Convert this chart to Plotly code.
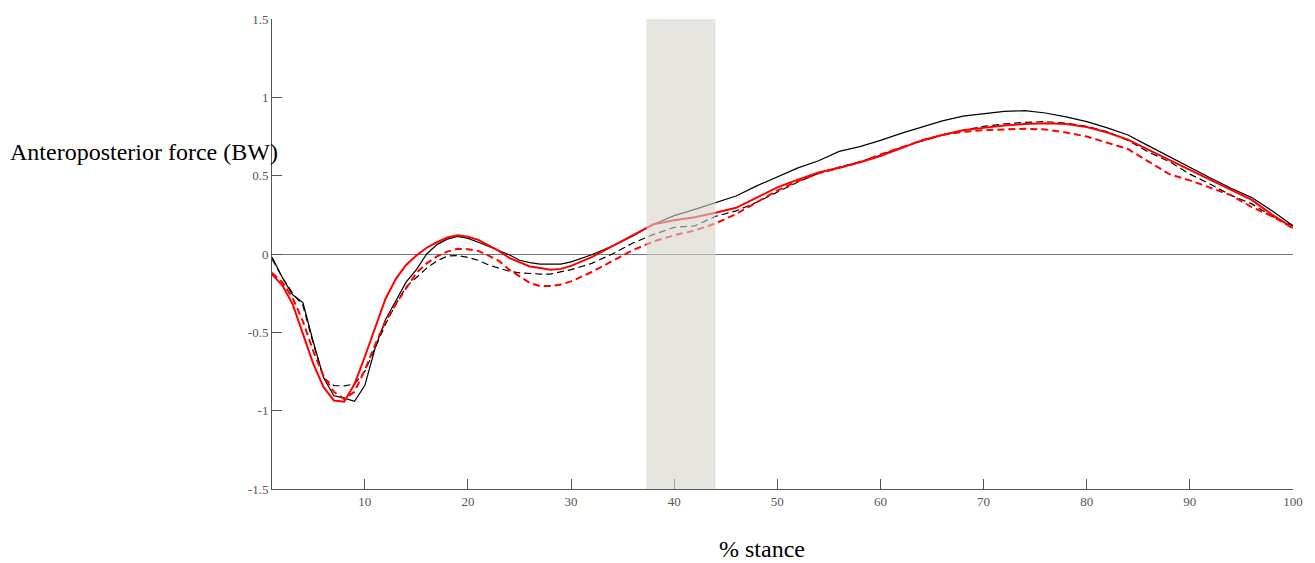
import plotly.graph_objects as go

# % stance sample points
stance = [1, 2, 3, 4, 5, 6, 7, 8, 9, 10, 11, 12, 13, 14, 15, 16, 17, 18, 19, 20,
          21, 22, 23, 24, 25, 26, 27, 28, 29, 30, 32, 34, 36, 38, 40, 42, 44, 46,
          48, 50, 52, 54, 56, 58, 60, 62, 64, 66, 68, 70, 72, 74, 76, 78, 80, 82,
          84, 86, 88, 90, 92, 94, 96, 98, 100]

# anteroposterior force (BW)
black_solid = [-0.02, -0.15, -0.26, -0.31, -0.56, -0.79, -0.905, -0.92, -0.94, -0.84,
               -0.60, -0.42, -0.30, -0.18, -0.10, 0.0, 0.06, 0.095, 0.113, 0.10,
               0.075, 0.05, 0.025, -0.005, -0.04, -0.055, -0.065, -0.066, -0.065, -0.05,
               -0.005, 0.05, 0.115, 0.19, 0.245, 0.285, 0.33, 0.37, 0.435, 0.49,
               0.55, 0.595, 0.655, 0.685, 0.725, 0.77, 0.81, 0.85, 0.88, 0.895,
               0.91, 0.915, 0.90, 0.875, 0.845, 0.805, 0.76, 0.69, 0.62, 0.555,
               0.485, 0.42, 0.36, 0.275, 0.18]

black_dashed = [-0.03, -0.15, -0.25, -0.33, -0.57, -0.79, -0.84, -0.842, -0.83, -0.75,
                -0.60, -0.45, -0.32, -0.21, -0.15, -0.09, -0.044, -0.013, -0.01, -0.022,
                -0.04, -0.07, -0.09, -0.11, -0.12, -0.125, -0.128, -0.128, -0.115, -0.10,
                -0.06, 0.0, 0.07, 0.125, 0.17, 0.18, 0.24, 0.275, 0.33, 0.395,
                0.46, 0.515, 0.555, 0.59, 0.63, 0.68, 0.72, 0.76, 0.79, 0.815,
                0.83, 0.84, 0.845, 0.835, 0.815, 0.78, 0.725, 0.65, 0.59, 0.51,
                0.445, 0.375, 0.32, 0.24, 0.18]

red_solid = [-0.13, -0.20, -0.32, -0.51, -0.70, -0.85, -0.935, -0.943, -0.83, -0.656,
             -0.466, -0.287, -0.16, -0.07, -0.01, 0.04, 0.075, 0.105, 0.12, 0.11,
             0.09, 0.055, 0.02, -0.025, -0.055, -0.08, -0.09, -0.10, -0.095, -0.076,
             -0.02, 0.05, 0.115, 0.19, 0.215, 0.235, 0.263, 0.295, 0.36, 0.425,
             0.475, 0.52, 0.55, 0.585, 0.625, 0.675, 0.725, 0.76, 0.79, 0.805,
             0.82, 0.83, 0.835, 0.83, 0.81, 0.775, 0.73, 0.665, 0.60, 0.535,
             0.47, 0.405, 0.345, 0.25, 0.166]

red_dashed = [-0.12, -0.18, -0.28, -0.43, -0.62, -0.78, -0.88, -0.925, -0.88, -0.74,
              -0.58, -0.43, -0.32, -0.22, -0.12, -0.06, -0.015, 0.015, 0.033, 0.03,
              0.02, -0.01, -0.044, -0.10, -0.145, -0.185, -0.205, -0.205, -0.195, -0.175,
              -0.115, -0.045, 0.025, 0.08, 0.12, 0.15, 0.195, 0.255, 0.33, 0.405,
              0.465, 0.515, 0.55, 0.585, 0.635, 0.68, 0.725, 0.76, 0.78, 0.79,
              0.795, 0.80, 0.795, 0.775, 0.75, 0.71, 0.67, 0.59, 0.51, 0.47,
              0.42, 0.375, 0.30, 0.24, 0.166]

# highlighted stance window
band = [37.3, 44.0]

x_ticks = [10, 20, 30, 40, 50, 60, 70, 80, 90, 100]
y_ticks = [-1.5, -1, -0.5, 0, 0.5, 1, 1.5]
y_tick_text = ["-1.5", "-1", "-0.5", "0", "0.5", "1", "1.5"]

SERIF = "'Times New Roman', 'Liberation Serif', 'DejaVu Serif', serif"

fig = go.Figure()
fig.add_trace(go.Scatter(x=stance, y=black_dashed, mode="lines",
                         line=dict(color="#000000", width=1.2, dash="7px,4px")))
fig.add_trace(go.Scatter(x=stance, y=black_solid, mode="lines",
                         line=dict(color="#000000", width=1.2)))
fig.add_trace(go.Scatter(x=stance, y=red_dashed, mode="lines",
                         line=dict(color="#ff0000", width=2, dash="7px,4px")))
fig.add_trace(go.Scatter(x=stance, y=red_solid, mode="lines",
                         line=dict(color="#ff0000", width=2)))

fig.add_shape(type="rect", xref="x", yref="paper", x0=band[0], x1=band[1], y0=0, y1=1,
              fillcolor="rgb(214,211,204)", opacity=0.6, line=dict(width=0), layer="above")

fig.add_annotation(text="Anteroposterior force (BW)", xref="paper", yref="paper",
                   x=-0.259, y=0.716, xanchor="left", yanchor="middle", showarrow=False,
                   font=dict(family=SERIF, size=24, color="#000000"))
fig.add_annotation(text="% stance", xref="paper", yref="paper",
                   x=0.48, y=-0.127, xanchor="center", yanchor="middle", showarrow=False,
                   font=dict(family=SERIF, size=24, color="#000000"))

fig.update_layout(
    width=1315, height=563,
    margin=dict(l=272, r=13, t=16, b=74),
    paper_bgcolor="white", plot_bgcolor="white",
    showlegend=False,
    font=dict(family=SERIF, size=13, color="#555555"),
    xaxis=dict(range=[1, 100], tickvals=x_ticks, ticks="inside", ticklen=10,
               tickcolor="#555555", showline=True, linecolor="#555555", linewidth=1,
               showgrid=False, zeroline=False, tickfont=dict(family=SERIF, size=13, color="#555555")),
    yaxis=dict(range=[-1.5, 1.5], tickvals=y_ticks, ticktext=y_tick_text, ticks="inside",
               ticklen=10, tickcolor="#555555", showline=True, linecolor="#555555", linewidth=1,
               showgrid=False, zeroline=True, zerolinecolor="#777777", zerolinewidth=1,
               tickfont=dict(family=SERIF, size=13, color="#555555")),
)

fig.write_html("out.html")
